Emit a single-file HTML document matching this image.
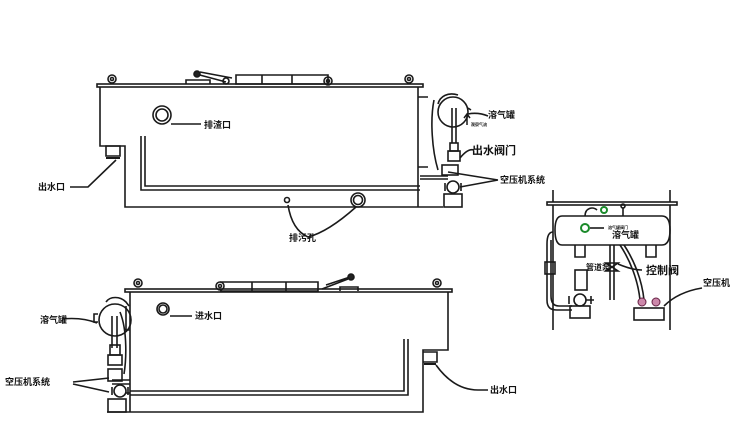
<!DOCTYPE html>
<html><head><meta charset="utf-8"><style>
body{margin:0;background:#fff;}
svg{display:block}
text{font-family:"Liberation Sans","Noto Sans CJK SC",sans-serif;font-weight:bold;fill:#111}
</style></head><body>
<svg width="750" height="439" viewBox="0 0 750 439" xmlns="http://www.w3.org/2000/svg">
<g stroke="#1a1a1a" stroke-width="1.6" fill="none">
<!-- TOP TANK -->
<rect x="97" y="84" width="326" height="3" fill="#fff"/>
<path d="M100 87 V146 H125 V207 H443"/>
<path d="M418 87 V207"/>
<path d="M106 146 h14 v10 h-14 z"/>
<path d="M106 158 h14" stroke-width="2"/>
<circle cx="112" cy="79" r="4"/><circle cx="112" cy="79" r="1.5"/>
<circle cx="409" cy="79" r="4"/><circle cx="409" cy="79" r="1.5"/>
<path d="M186 84 v-4 h24 v4"/>
<path d="M196 74 l30 8 M200 72 l32 6"/>
<circle cx="197" cy="74" r="3" fill="#222"/>
<circle cx="226" cy="81" r="3"/>
<path d="M236 75 h92 v9 h-92 z M262 75 v9 M292 75 v9"/>
<circle cx="328" cy="81" r="4"/><circle cx="328" cy="81" r="1.5"/>
<circle cx="162" cy="115" r="9"/><circle cx="162" cy="115" r="6"/>
<path d="M141 136 V190 H420 M145 136 V186 H420"/>
<circle cx="358" cy="200" r="7"/><circle cx="358" cy="200" r="4.5"/>
<circle cx="287" cy="200" r="2.5"/>
<path d="M418 97 h10 M418 167 h10"/>
<circle cx="453" cy="112" r="15"/>
<path d="M438 104 c2 -8 10 -12 20 -9 M468 108 l3 2"/>
<path d="M434 100 c-4 20 -2 50 4 70"/>
<path d="M452 108 v35 M456 108 v35"/>
<rect x="450" y="143" width="8" height="8"/><rect x="448" y="151" width="12" height="10"/>
<rect x="442" y="165" width="16" height="10"/>
<path d="M420 176 h28 M420 179 h28"/>
<circle cx="453" cy="187" r="6"/>
<path d="M445 183 v8 M461 183 v8"/>
<rect x="444" y="194" width="18" height="13"/>
<path d="M467 125 v-10 M464 118 l3 -4 l3 4" stroke-width="1.5"/>
<path d="M171 124 h30"/>
<path d="M70 187 h18 l28 -27"/>
<path d="M288 205 q4 25 20 32 q20 -5 48 -30"/>
<path d="M468 114 q10 -2 20 2"/>
<path d="M460 158 q8 -10 14 -8"/>
<path d="M448 172 l50 8 M460 187 l38 -7"/>
<!-- BOTTOM TANK -->
<rect x="125" y="289" width="327" height="3" fill="#fff"/>
<path d="M130 292 V412 M107 412 H423 V350 H448 V292"/>
<path d="M423 352 h14 v10 h-14" />
<path d="M424 364 h12" stroke-width="2"/>
<circle cx="138" cy="283" r="4"/><circle cx="138" cy="283" r="1.5"/>
<circle cx="437" cy="283" r="4"/><circle cx="437" cy="283" r="1.5"/>
<circle cx="220" cy="286" r="4"/><circle cx="220" cy="286" r="1.5"/>
<path d="M220 282 h98 v9 h-98 M252 282 v9 M286 282 v9"/>
<path d="M322 289 l26 -10 M326 285 l24 -8"/>
<circle cx="351" cy="277" r="3" fill="#222"/>
<path d="M340 291 v-4 h18 v4"/>
<circle cx="163" cy="309" r="6"/><circle cx="163" cy="309" r="4"/>
<path d="M404 339 V391 H130 M408 339 V395 H130"/>
<circle cx="115" cy="320" r="16"/>
<path d="M98 314 h-4 v8 h4"/>
<path d="M106 302 c4 -6 14 -6 20 0 l3 4 M126 306 v24 h4 M120 312 c8 20 6 50 4 62"/>
<path d="M112 316 v32 M117 316 v32"/>
<rect x="110" y="345" width="10" height="10"/><rect x="108" y="355" width="14" height="10"/>
<rect x="108" y="369" width="14" height="12"/>
<path d="M112 380 h18 M112 384 h18"/>
<circle cx="120" cy="391" r="6"/>
<path d="M112 387 v8 M128 387 v8 M126 393 h4"/>
<rect x="108" y="399" width="18" height="13"/>
<path d="M62 319 q20 -2 35 4"/>
<path d="M170 316 h22"/>
<path d="M73 382 l36 -4 M73 384 l36 8"/>
<path d="M436 365 q18 25 42 25 h10"/>
<!-- RIGHT PANEL -->
<path d="M553 190 V330 M670 190 V330"/>
<rect x="547" y="202" width="130" height="3" fill="#fff"/>
<path d="M562 216 H662 Q670 216 670 230 Q670 245 662 245 H562 Q555 245 555 230 Q555 216 562 216 Z"/>
<path d="M575 245 v12 h10 v-12 M646 245 v12 h10 v-12"/>
<path d="M585 216 c0 -8 8 -10 12 -6"/>
<path d="M623 208 v8"/><circle cx="623" cy="206" r="2"/>
<path d="M553 232 c-6 0 -6 10 -6 12 V300 c0 8 4 10 10 10 H572 M551 240 V296 c0 6 2 10 8 10 H572"/>
<rect x="545" y="262" width="10" height="12"/>
<path d="M610 245 V300 M614 245 V300"/>
<path d="M606 263 h12 l-12 8 h12 z"/>
<path d="M620 245 c10 15 18 35 20 55 M624 245 c10 15 18 35 20 55"/>
<rect x="575" y="270" width="12" height="20"/>
<circle cx="580" cy="300" r="6"/>
<path d="M569 296 v8 M591 296 v8 M586 300 h8"/>
<rect x="570" y="306" width="20" height="12"/>
<rect x="634" y="308" width="30" height="12"/>
<path d="M590 228 h14"/>
<path d="M618 264 q14 6 24 6"/>
<path d="M664 306 q14 -14 38 -18"/>
</g>
<circle cx="585" cy="228" r="4" fill="#fff" stroke="#1a8a2a" stroke-width="2"/>
<circle cx="604" cy="210" r="3" fill="#fff" stroke="#1a8a2a" stroke-width="2"/>
<circle cx="642" cy="302" r="4" fill="#c8a" stroke="#624" />
<circle cx="656" cy="302" r="4" fill="#c8a" stroke="#624" />
<g font-size="9">
<text x="204" y="128">排渣口</text>
<text x="38" y="190">出水口</text>
<text x="289" y="241">排污孔</text>
<text x="488" y="118">溶气罐</text>
<text x="472" y="154" font-size="11">出水阀门</text>
<text x="500" y="183">空压机系统</text>
<text x="40" y="323">溶气罐</text>
<text x="195" y="319">进水口</text>
<text x="5" y="385">空压机系统</text>
<text x="490" y="393">出水口</text>
<text x="612" y="238">溶气罐</text>
<text x="586" y="270" font-size="8">管道泵</text>
<text x="646" y="274" font-size="11">控制阀</text>
<text x="703" y="286">空压机</text>
<text x="608" y="229" font-size="4">溶气罐阀门</text>
<text x="471" y="126" font-size="4">观察气流</text>
</g>
</svg>
</body></html>
